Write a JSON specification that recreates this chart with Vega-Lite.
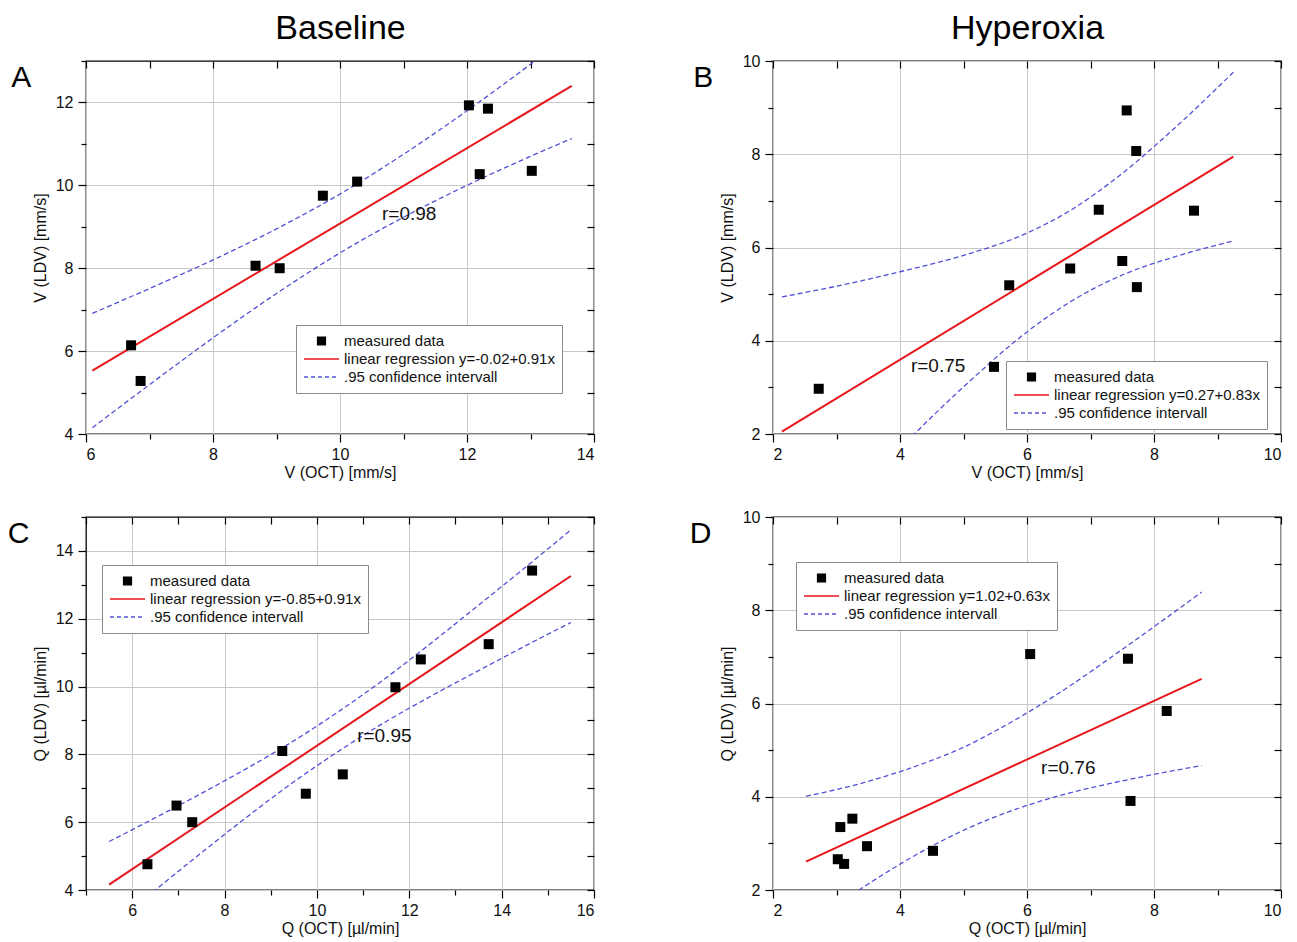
{
  "$schema": "https://vega.github.io/schema/vega-lite/v6.json",
  "background": "white",
  "padding": {"left": 7, "top": 10, "right": 0, "bottom": 0},
  "config": {
    "font": "Liberation Sans",
    "view": {"stroke": "black", "strokeWidth": 1.3},
    "axis": {"labelFont": "Liberation Sans", "labelFontSize": 16, "labelColor": "#111", "titleFont": "Liberation Sans", "titleFontSize": 16, "titleFontWeight": "normal", "titleColor": "#111", "tickColor": "black", "tickWidth": 1.2, "gridColor": "#c8c8c8", "gridWidth": 1, "domain": false},
    "legend": {"labelFont": "Liberation Sans", "labelFontSize": 15, "labelColor": "#111", "labelLimit": 500, "symbolSize": 1225, "clipHeight": 18, "rowPadding": 0, "padding": 7, "labelOffset": 4, "symbolOffset": 0, "strokeColor": "#8a8a8a", "fillColor": "white", "symbolStrokeWidth": 1.5},
    "title": {"font": "Liberation Sans", "fontWeight": "normal", "color": "black"},
    "text": {"font": "Liberation Sans"}
  },
  "datasets": {
    "A_pts": [{"x": 6.71, "y": 6.14, "series": "measured data"}, {"x": 6.86, "y": 5.28, "series": "measured data"}, {"x": 8.67, "y": 8.06, "series": "measured data"}, {"x": 9.05, "y": 8.0, "series": "measured data"}, {"x": 9.73, "y": 9.75, "series": "measured data"}, {"x": 10.27, "y": 10.09, "series": "measured data"}, {"x": 12.03, "y": 11.93, "series": "measured data"}, {"x": 12.33, "y": 11.85, "series": "measured data"}, {"x": 12.2, "y": 10.27, "series": "measured data"}, {"x": 13.02, "y": 10.35, "series": "measured data"}],
    "A_reg": [{"x": 6.1, "y": 5.53, "series": "linear regression y=-0.02+0.91x"}, {"x": 13.65, "y": 12.4, "series": "linear regression y=-0.02+0.91x"}],
    "A_ci": [
      {"x": 6.1, "y": 6.91, "bound": "upper", "series": ".95 confidence intervall"}, {"x": 7, "y": 7.51, "bound": "upper", "series": ".95 confidence intervall"}, {"x": 8, "y": 8.2, "bound": "upper", "series": ".95 confidence intervall"}, {"x": 9, "y": 8.95, "bound": "upper", "series": ".95 confidence intervall"}, {"x": 10, "y": 9.79, "bound": "upper", "series": ".95 confidence intervall"}, {"x": 11, "y": 10.75, "bound": "upper", "series": ".95 confidence intervall"}, {"x": 12, "y": 11.8, "bound": "upper", "series": ".95 confidence intervall"}, {"x": 13, "y": 12.92, "bound": "upper", "series": ".95 confidence intervall"}, {"x": 13.65, "y": 13.67, "bound": "upper", "series": ".95 confidence intervall"},
      {"x": 6.1, "y": 4.15, "bound": "lower", "series": ".95 confidence intervall"}, {"x": 7, "y": 5.19, "bound": "lower", "series": ".95 confidence intervall"}, {"x": 8, "y": 6.32, "bound": "lower", "series": ".95 confidence intervall"}, {"x": 9, "y": 7.39, "bound": "lower", "series": ".95 confidence intervall"}, {"x": 10, "y": 8.37, "bound": "lower", "series": ".95 confidence intervall"}, {"x": 11, "y": 9.23, "bound": "lower", "series": ".95 confidence intervall"}, {"x": 12, "y": 10.0, "bound": "lower", "series": ".95 confidence intervall"}, {"x": 13, "y": 10.7, "bound": "lower", "series": ".95 confidence intervall"}, {"x": 13.65, "y": 11.13, "bound": "lower", "series": ".95 confidence intervall"}
    ],
    "A_txt": [{"x": 11.09, "y": 9.3, "label": "r=0.98"}],
    "B_pts": [{"x": 2.72, "y": 2.97, "series": "measured data"}, {"x": 5.48, "y": 3.44, "series": "measured data"}, {"x": 5.72, "y": 5.19, "series": "measured data"}, {"x": 6.68, "y": 5.55, "series": "measured data"}, {"x": 7.13, "y": 6.81, "series": "measured data"}, {"x": 7.57, "y": 8.94, "series": "measured data"}, {"x": 7.72, "y": 8.07, "series": "measured data"}, {"x": 7.5, "y": 5.71, "series": "measured data"}, {"x": 7.73, "y": 5.15, "series": "measured data"}, {"x": 8.63, "y": 6.79, "series": "measured data"}],
    "B_reg": [{"x": 2.14, "y": 2.05, "series": "linear regression y=0.27+0.83x"}, {"x": 9.25, "y": 7.95, "series": "linear regression y=0.27+0.83x"}],
    "B_ci": [
      {"x": 2.14, "y": 4.94, "bound": "upper", "series": ".95 confidence intervall"}, {"x": 3, "y": 5.17, "bound": "upper", "series": ".95 confidence intervall"}, {"x": 4, "y": 5.48, "bound": "upper", "series": ".95 confidence intervall"}, {"x": 5, "y": 5.83, "bound": "upper", "series": ".95 confidence intervall"}, {"x": 6, "y": 6.31, "bound": "upper", "series": ".95 confidence intervall"}, {"x": 6.7, "y": 6.81, "bound": "upper", "series": ".95 confidence intervall"}, {"x": 7.5, "y": 7.59, "bound": "upper", "series": ".95 confidence intervall"}, {"x": 8.3, "y": 8.53, "bound": "upper", "series": ".95 confidence intervall"}, {"x": 9.25, "y": 9.76, "bound": "upper", "series": ".95 confidence intervall"},
      {"x": 2.14, "y": -0.84, "bound": "lower", "series": ".95 confidence intervall"}, {"x": 3, "y": 0.35, "bound": "lower", "series": ".95 confidence intervall"}, {"x": 4, "y": 1.7, "bound": "lower", "series": ".95 confidence intervall"}, {"x": 5, "y": 3.01, "bound": "lower", "series": ".95 confidence intervall"}, {"x": 6, "y": 4.19, "bound": "lower", "series": ".95 confidence intervall"}, {"x": 6.7, "y": 4.85, "bound": "lower", "series": ".95 confidence intervall"}, {"x": 7.5, "y": 5.41, "bound": "lower", "series": ".95 confidence intervall"}, {"x": 8.3, "y": 5.79, "bound": "lower", "series": ".95 confidence intervall"}, {"x": 9.25, "y": 6.14, "bound": "lower", "series": ".95 confidence intervall"}
    ],
    "B_txt": [{"x": 4.6, "y": 3.46, "label": "r=0.75"}],
    "C_pts": [{"x": 6.33, "y": 4.76, "series": "measured data"}, {"x": 6.96, "y": 6.49, "series": "measured data"}, {"x": 7.3, "y": 6.0, "series": "measured data"}, {"x": 9.25, "y": 8.1, "series": "measured data"}, {"x": 9.76, "y": 6.84, "series": "measured data"}, {"x": 10.56, "y": 7.41, "series": "measured data"}, {"x": 11.7, "y": 9.98, "series": "measured data"}, {"x": 12.25, "y": 10.8, "series": "measured data"}, {"x": 13.72, "y": 11.25, "series": "measured data"}, {"x": 14.66, "y": 13.42, "series": "measured data"}],
    "C_reg": [{"x": 5.5, "y": 4.16, "series": "linear regression y=-0.85+0.91x"}, {"x": 15.5, "y": 13.26, "series": "linear regression y=-0.85+0.91x"}],
    "C_ci": [
      {"x": 5.5, "y": 5.43, "bound": "upper", "series": ".95 confidence intervall"}, {"x": 6.5, "y": 6.13, "bound": "upper", "series": ".95 confidence intervall"}, {"x": 7.5, "y": 6.85, "bound": "upper", "series": ".95 confidence intervall"}, {"x": 8.5, "y": 7.6, "bound": "upper", "series": ".95 confidence intervall"}, {"x": 9.5, "y": 8.4, "bound": "upper", "series": ".95 confidence intervall"}, {"x": 10.5, "y": 9.29, "bound": "upper", "series": ".95 confidence intervall"}, {"x": 11.5, "y": 10.26, "bound": "upper", "series": ".95 confidence intervall"}, {"x": 12.5, "y": 11.31, "bound": "upper", "series": ".95 confidence intervall"}, {"x": 13.5, "y": 12.4, "bound": "upper", "series": ".95 confidence intervall"}, {"x": 14.5, "y": 13.5, "bound": "upper", "series": ".95 confidence intervall"}, {"x": 15.5, "y": 14.62, "bound": "upper", "series": ".95 confidence intervall"},
      {"x": 5.5, "y": 2.89, "bound": "lower", "series": ".95 confidence intervall"}, {"x": 6.5, "y": 4.0, "bound": "lower", "series": ".95 confidence intervall"}, {"x": 7.5, "y": 5.1, "bound": "lower", "series": ".95 confidence intervall"}, {"x": 8.5, "y": 6.17, "bound": "lower", "series": ".95 confidence intervall"}, {"x": 9.5, "y": 7.19, "bound": "lower", "series": ".95 confidence intervall"}, {"x": 10.5, "y": 8.12, "bound": "lower", "series": ".95 confidence intervall"}, {"x": 11.5, "y": 8.97, "bound": "lower", "series": ".95 confidence intervall"}, {"x": 12.5, "y": 9.74, "bound": "lower", "series": ".95 confidence intervall"}, {"x": 13.5, "y": 10.47, "bound": "lower", "series": ".95 confidence intervall"}, {"x": 14.5, "y": 11.19, "bound": "lower", "series": ".95 confidence intervall"}, {"x": 15.5, "y": 11.89, "bound": "lower", "series": ".95 confidence intervall"}
    ],
    "C_txt": [{"x": 11.46, "y": 8.55, "label": "r=0.95"}],
    "D_pts": [{"x": 3.02, "y": 2.66, "series": "measured data"}, {"x": 3.06, "y": 3.35, "series": "measured data"}, {"x": 3.12, "y": 2.56, "series": "measured data"}, {"x": 3.25, "y": 3.53, "series": "measured data"}, {"x": 3.48, "y": 2.94, "series": "measured data"}, {"x": 4.52, "y": 2.84, "series": "measured data"}, {"x": 6.05, "y": 7.06, "series": "measured data"}, {"x": 7.59, "y": 6.96, "series": "measured data"}, {"x": 7.63, "y": 3.91, "series": "measured data"}, {"x": 8.2, "y": 5.84, "series": "measured data"}],
    "D_reg": [{"x": 2.52, "y": 2.61, "series": "linear regression y=1.02+0.63x"}, {"x": 8.75, "y": 6.53, "series": "linear regression y=1.02+0.63x"}],
    "D_ci": [
      {"x": 2.52, "y": 4.01, "bound": "upper", "series": ".95 confidence intervall"}, {"x": 3.5, "y": 4.33, "bound": "upper", "series": ".95 confidence intervall"}, {"x": 4.5, "y": 4.78, "bound": "upper", "series": ".95 confidence intervall"}, {"x": 5, "y": 5.06, "bound": "upper", "series": ".95 confidence intervall"}, {"x": 5.5, "y": 5.41, "bound": "upper", "series": ".95 confidence intervall"}, {"x": 6.5, "y": 6.22, "bound": "upper", "series": ".95 confidence intervall"}, {"x": 7.5, "y": 7.16, "bound": "upper", "series": ".95 confidence intervall"}, {"x": 8.75, "y": 8.39, "bound": "upper", "series": ".95 confidence intervall"},
      {"x": 2.52, "y": 1.21, "bound": "lower", "series": ".95 confidence intervall"}, {"x": 3.5, "y": 2.13, "bound": "lower", "series": ".95 confidence intervall"}, {"x": 4.5, "y": 2.94, "bound": "lower", "series": ".95 confidence intervall"}, {"x": 5, "y": 3.28, "bound": "lower", "series": ".95 confidence intervall"}, {"x": 5.5, "y": 3.57, "bound": "lower", "series": ".95 confidence intervall"}, {"x": 6.5, "y": 4.02, "bound": "lower", "series": ".95 confidence intervall"}, {"x": 7.5, "y": 4.34, "bound": "lower", "series": ".95 confidence intervall"}, {"x": 8.75, "y": 4.67, "bound": "lower", "series": ".95 confidence intervall"}
    ],
    "D_txt": [{"x": 6.65, "y": 4.62, "label": "r=0.76"}]
  },
  "columns": 2,
  "spacing": {"row": 83, "column": 179},
  "bounds": "flush",
  "resolve": {"scale": {"color": "independent"}, "legend": {"color": "independent"}},
  "concat": [
    {
      "width": 508, "height": 373,
      "title": {"text": "A", "orient": "left", "anchor": "end", "frame": "group", "angle": 0, "align": "right", "baseline": "alphabetic", "fontSize": 30, "offset": -19, "dy": 26},
      "resolve": {"axis": {"x": "independent", "y": "independent"}},
      "layer": [
        {"data": {"name": "A_reg"}, "mark": {"type": "line", "strokeWidth": 2, "clip": true},
         "encoding": {
           "x": {"field": "x", "type": "quantitative", "scale": {"domain": [6, 14], "nice": false, "zero": false}, "axis": {"orient": "bottom", "values": [7, 9, 11, 13], "grid": false, "labels": false, "tickSize": 5, "title": null}},
           "y": {"field": "y", "type": "quantitative", "scale": {"domain": [4, 13], "nice": false, "zero": false}, "axis": {"orient": "left", "values": [5, 7, 9, 11, 13], "grid": false, "labels": false, "tickSize": 5, "title": null}},
           "color": {"field": "series", "type": "nominal", "scale": {"domain": ["measured data", "linear regression y=-0.02+0.91x", ".95 confidence intervall"], "range": ["black", "#e8161b", "#5151d8"]},
             "legend": {"title": null, "orient": "none", "legendX": 210, "legendY": 264, "symbolType": {"expr": "datum.value === 'measured data' ? 'M-0.22,-0.22H0.22V0.22H-0.22Z' : 'stroke'"}, "symbolDash": {"expr": "indexof(datum.value, '.95') === 0 ? [4, 3] : [1, 0]"}}}
         }},
        {"data": {"name": "A_ci"}, "mark": {"type": "line", "strokeWidth": 1.3, "strokeDash": [5, 3], "clip": true, "interpolate": "monotone"},
         "encoding": {
           "x": {"field": "x", "type": "quantitative", "scale": {"domain": [6, 14], "nice": false, "zero": false}, "axis": {"orient": "top", "values": [6, 7, 8, 9, 10, 11, 12, 13, 14], "grid": false, "labels": false, "tickSize": -7, "title": "Baseline", "titleFontSize": 34, "titleColor": "black", "titlePadding": 22, "titleBaseline": "alphabetic"}},
           "y": {"field": "y", "type": "quantitative", "scale": {"domain": [4, 13], "nice": false, "zero": false}, "axis": {"orient": "right", "values": [4, 5, 6, 7, 8, 9, 10, 11, 12, 13], "grid": false, "labels": false, "tickSize": -7, "title": null}},
           "detail": {"field": "bound"},
           "color": {"field": "series", "type": "nominal", "scale": {"domain": ["measured data", "linear regression y=-0.02+0.91x", ".95 confidence intervall"], "range": ["black", "#e8161b", "#5151d8"]},
             "legend": {"title": null, "orient": "none", "legendX": 210, "legendY": 264, "symbolType": {"expr": "datum.value === 'measured data' ? 'M-0.22,-0.22H0.22V0.22H-0.22Z' : 'stroke'"}, "symbolDash": {"expr": "indexof(datum.value, '.95') === 0 ? [4, 3] : [1, 0]"}}}
         }},
        {"data": {"name": "A_pts"}, "mark": {"type": "point", "shape": "square", "filled": true, "size": 100, "opacity": 1},
         "encoding": {
           "x": {"field": "x", "type": "quantitative", "scale": {"domain": [6, 14], "nice": false, "zero": false}, "axis": {"orient": "bottom", "values": [6, 8, 10, 12, 14], "grid": true, "tickSize": 8, "labelPadding": 4, "title": "V (OCT) [mm/s]", "titlePadding": 2}},
           "y": {"field": "y", "type": "quantitative", "scale": {"domain": [4, 13], "nice": false, "zero": false}, "axis": {"orient": "left", "values": [4, 6, 8, 10, 12], "grid": true, "tickSize": 8, "labelPadding": 5, "title": "V (LDV) [mm/s]", "titlePadding": 7}},
           "color": {"field": "series", "type": "nominal", "scale": {"domain": ["measured data", "linear regression y=-0.02+0.91x", ".95 confidence intervall"], "range": ["black", "#e8161b", "#5151d8"]},
             "legend": {"title": null, "orient": "none", "legendX": 210, "legendY": 264, "symbolType": {"expr": "datum.value === 'measured data' ? 'M-0.22,-0.22H0.22V0.22H-0.22Z' : 'stroke'"}, "symbolDash": {"expr": "indexof(datum.value, '.95') === 0 ? [4, 3] : [1, 0]"}}}
         }},
        {"data": {"name": "A_txt"}, "mark": {"type": "text", "fontSize": 19, "color": "#111"},
         "encoding": {
           "x": {"field": "x", "type": "quantitative", "scale": {"domain": [6, 14], "nice": false, "zero": false}, "axis": null},
           "y": {"field": "y", "type": "quantitative", "scale": {"domain": [4, 13], "nice": false, "zero": false}, "axis": null},
           "text": {"field": "label"}
         }}
      ]
    },
    {
      "width": 508, "height": 373,
      "title": {"text": "B", "orient": "left", "anchor": "end", "frame": "group", "angle": 0, "align": "right", "baseline": "alphabetic", "fontSize": 30, "offset": -14, "dy": 26},
      "resolve": {"axis": {"x": "independent", "y": "independent"}},
      "layer": [
        {"data": {"name": "B_reg"}, "mark": {"type": "line", "strokeWidth": 2, "clip": true},
         "encoding": {
           "x": {"field": "x", "type": "quantitative", "scale": {"domain": [2, 10], "nice": false, "zero": false}, "axis": {"orient": "bottom", "values": [3, 5, 7, 9], "grid": false, "labels": false, "tickSize": 5, "title": null}},
           "y": {"field": "y", "type": "quantitative", "scale": {"domain": [2, 10], "nice": false, "zero": false}, "axis": {"orient": "left", "values": [3, 5, 7, 9], "grid": false, "labels": false, "tickSize": 5, "title": null}},
           "color": {"field": "series", "type": "nominal", "scale": {"domain": ["measured data", "linear regression y=0.27+0.83x", ".95 confidence intervall"], "range": ["black", "#e8161b", "#5151d8"]},
             "legend": {"title": null, "orient": "none", "legendX": 233, "legendY": 300, "symbolType": {"expr": "datum.value === 'measured data' ? 'M-0.22,-0.22H0.22V0.22H-0.22Z' : 'stroke'"}, "symbolDash": {"expr": "indexof(datum.value, '.95') === 0 ? [4, 3] : [1, 0]"}}}
         }},
        {"data": {"name": "B_ci"}, "mark": {"type": "line", "strokeWidth": 1.3, "strokeDash": [5, 3], "clip": true, "interpolate": "monotone"},
         "encoding": {
           "x": {"field": "x", "type": "quantitative", "scale": {"domain": [2, 10], "nice": false, "zero": false}, "axis": {"orient": "top", "values": [2, 3, 4, 5, 6, 7, 8, 9, 10], "grid": false, "labels": false, "tickSize": -7, "title": "Hyperoxia", "titleFontSize": 34, "titleColor": "black", "titlePadding": 22, "titleBaseline": "alphabetic"}},
           "y": {"field": "y", "type": "quantitative", "scale": {"domain": [2, 10], "nice": false, "zero": false}, "axis": {"orient": "right", "values": [2, 3, 4, 5, 6, 7, 8, 9, 10], "grid": false, "labels": false, "tickSize": -7, "title": null}},
           "detail": {"field": "bound"},
           "color": {"field": "series", "type": "nominal", "scale": {"domain": ["measured data", "linear regression y=0.27+0.83x", ".95 confidence intervall"], "range": ["black", "#e8161b", "#5151d8"]},
             "legend": {"title": null, "orient": "none", "legendX": 233, "legendY": 300, "symbolType": {"expr": "datum.value === 'measured data' ? 'M-0.22,-0.22H0.22V0.22H-0.22Z' : 'stroke'"}, "symbolDash": {"expr": "indexof(datum.value, '.95') === 0 ? [4, 3] : [1, 0]"}}}
         }},
        {"data": {"name": "B_pts"}, "mark": {"type": "point", "shape": "square", "filled": true, "size": 100, "opacity": 1},
         "encoding": {
           "x": {"field": "x", "type": "quantitative", "scale": {"domain": [2, 10], "nice": false, "zero": false}, "axis": {"orient": "bottom", "values": [2, 4, 6, 8, 10], "grid": true, "tickSize": 8, "labelPadding": 4, "title": "V (OCT) [mm/s]", "titlePadding": 2}},
           "y": {"field": "y", "type": "quantitative", "scale": {"domain": [2, 10], "nice": false, "zero": false}, "axis": {"orient": "left", "values": [2, 4, 6, 8, 10], "grid": true, "tickSize": 8, "labelPadding": 5, "title": "V (LDV) [mm/s]", "titlePadding": 7}},
           "color": {"field": "series", "type": "nominal", "scale": {"domain": ["measured data", "linear regression y=0.27+0.83x", ".95 confidence intervall"], "range": ["black", "#e8161b", "#5151d8"]},
             "legend": {"title": null, "orient": "none", "legendX": 233, "legendY": 300, "symbolType": {"expr": "datum.value === 'measured data' ? 'M-0.22,-0.22H0.22V0.22H-0.22Z' : 'stroke'"}, "symbolDash": {"expr": "indexof(datum.value, '.95') === 0 ? [4, 3] : [1, 0]"}}}
         }},
        {"data": {"name": "B_txt"}, "mark": {"type": "text", "fontSize": 19, "color": "#111"},
         "encoding": {
           "x": {"field": "x", "type": "quantitative", "scale": {"domain": [2, 10], "nice": false, "zero": false}, "axis": null},
           "y": {"field": "y", "type": "quantitative", "scale": {"domain": [2, 10], "nice": false, "zero": false}, "axis": null},
           "text": {"field": "label"}
         }}
      ]
    },
    {
      "width": 508, "height": 373,
      "title": {"text": "C", "orient": "left", "anchor": "end", "frame": "group", "angle": 0, "align": "right", "baseline": "alphabetic", "fontSize": 30, "offset": -19, "dy": 26},
      "resolve": {"axis": {"x": "independent", "y": "independent"}},
      "layer": [
        {"data": {"name": "C_reg"}, "mark": {"type": "line", "strokeWidth": 2, "clip": true},
         "encoding": {
           "x": {"field": "x", "type": "quantitative", "scale": {"domain": [5, 16], "nice": false, "zero": false}, "axis": {"orient": "bottom", "values": [5, 7, 9, 11, 13, 15], "grid": false, "labels": false, "tickSize": 5, "title": null}},
           "y": {"field": "y", "type": "quantitative", "scale": {"domain": [4, 15], "nice": false, "zero": false}, "axis": {"orient": "left", "values": [5, 7, 9, 11, 13, 15], "grid": false, "labels": false, "tickSize": 5, "title": null}},
           "color": {"field": "series", "type": "nominal", "scale": {"domain": ["measured data", "linear regression y=-0.85+0.91x", ".95 confidence intervall"], "range": ["black", "#e8161b", "#5151d8"]},
             "legend": {"title": null, "orient": "none", "legendX": 16, "legendY": 48, "symbolType": {"expr": "datum.value === 'measured data' ? 'M-0.22,-0.22H0.22V0.22H-0.22Z' : 'stroke'"}, "symbolDash": {"expr": "indexof(datum.value, '.95') === 0 ? [4, 3] : [1, 0]"}}}
         }},
        {"data": {"name": "C_ci"}, "mark": {"type": "line", "strokeWidth": 1.3, "strokeDash": [5, 3], "clip": true, "interpolate": "monotone"},
         "encoding": {
           "x": {"field": "x", "type": "quantitative", "scale": {"domain": [5, 16], "nice": false, "zero": false}, "axis": {"orient": "top", "values": [5, 6, 7, 8, 9, 10, 11, 12, 13, 14, 15, 16], "grid": false, "labels": false, "tickSize": -7, "title": null}},
           "y": {"field": "y", "type": "quantitative", "scale": {"domain": [4, 15], "nice": false, "zero": false}, "axis": {"orient": "right", "values": [4, 5, 6, 7, 8, 9, 10, 11, 12, 13, 14, 15], "grid": false, "labels": false, "tickSize": -7, "title": null}},
           "detail": {"field": "bound"},
           "color": {"field": "series", "type": "nominal", "scale": {"domain": ["measured data", "linear regression y=-0.85+0.91x", ".95 confidence intervall"], "range": ["black", "#e8161b", "#5151d8"]},
             "legend": {"title": null, "orient": "none", "legendX": 16, "legendY": 48, "symbolType": {"expr": "datum.value === 'measured data' ? 'M-0.22,-0.22H0.22V0.22H-0.22Z' : 'stroke'"}, "symbolDash": {"expr": "indexof(datum.value, '.95') === 0 ? [4, 3] : [1, 0]"}}}
         }},
        {"data": {"name": "C_pts"}, "mark": {"type": "point", "shape": "square", "filled": true, "size": 100, "opacity": 1},
         "encoding": {
           "x": {"field": "x", "type": "quantitative", "scale": {"domain": [5, 16], "nice": false, "zero": false}, "axis": {"orient": "bottom", "values": [6, 8, 10, 12, 14, 16], "grid": true, "tickSize": 8, "labelPadding": 4, "title": "Q (OCT) [µl/min]", "titlePadding": 2}},
           "y": {"field": "y", "type": "quantitative", "scale": {"domain": [4, 15], "nice": false, "zero": false}, "axis": {"orient": "left", "values": [4, 6, 8, 10, 12, 14], "grid": true, "tickSize": 8, "labelPadding": 5, "title": "Q (LDV) [µl/min]", "titlePadding": 7}},
           "color": {"field": "series", "type": "nominal", "scale": {"domain": ["measured data", "linear regression y=-0.85+0.91x", ".95 confidence intervall"], "range": ["black", "#e8161b", "#5151d8"]},
             "legend": {"title": null, "orient": "none", "legendX": 16, "legendY": 48, "symbolType": {"expr": "datum.value === 'measured data' ? 'M-0.22,-0.22H0.22V0.22H-0.22Z' : 'stroke'"}, "symbolDash": {"expr": "indexof(datum.value, '.95') === 0 ? [4, 3] : [1, 0]"}}}
         }},
        {"data": {"name": "C_txt"}, "mark": {"type": "text", "fontSize": 19, "color": "#111"},
         "encoding": {
           "x": {"field": "x", "type": "quantitative", "scale": {"domain": [5, 16], "nice": false, "zero": false}, "axis": null},
           "y": {"field": "y", "type": "quantitative", "scale": {"domain": [4, 15], "nice": false, "zero": false}, "axis": null},
           "text": {"field": "label"}
         }}
      ]
    },
    {
      "width": 508, "height": 373,
      "title": {"text": "D", "orient": "left", "anchor": "end", "frame": "group", "angle": 0, "align": "right", "baseline": "alphabetic", "fontSize": 30, "offset": -14, "dy": 26},
      "resolve": {"axis": {"x": "independent", "y": "independent"}},
      "layer": [
        {"data": {"name": "D_reg"}, "mark": {"type": "line", "strokeWidth": 2, "clip": true},
         "encoding": {
           "x": {"field": "x", "type": "quantitative", "scale": {"domain": [2, 10], "nice": false, "zero": false}, "axis": {"orient": "bottom", "values": [3, 5, 7, 9], "grid": false, "labels": false, "tickSize": 5, "title": null}},
           "y": {"field": "y", "type": "quantitative", "scale": {"domain": [2, 10], "nice": false, "zero": false}, "axis": {"orient": "left", "values": [3, 5, 7, 9], "grid": false, "labels": false, "tickSize": 5, "title": null}},
           "color": {"field": "series", "type": "nominal", "scale": {"domain": ["measured data", "linear regression y=1.02+0.63x", ".95 confidence intervall"], "range": ["black", "#e8161b", "#5151d8"]},
             "legend": {"title": null, "orient": "none", "legendX": 23, "legendY": 45, "symbolType": {"expr": "datum.value === 'measured data' ? 'M-0.22,-0.22H0.22V0.22H-0.22Z' : 'stroke'"}, "symbolDash": {"expr": "indexof(datum.value, '.95') === 0 ? [4, 3] : [1, 0]"}}}
         }},
        {"data": {"name": "D_ci"}, "mark": {"type": "line", "strokeWidth": 1.3, "strokeDash": [5, 3], "clip": true, "interpolate": "monotone"},
         "encoding": {
           "x": {"field": "x", "type": "quantitative", "scale": {"domain": [2, 10], "nice": false, "zero": false}, "axis": {"orient": "top", "values": [2, 3, 4, 5, 6, 7, 8, 9, 10], "grid": false, "labels": false, "tickSize": -7, "title": null}},
           "y": {"field": "y", "type": "quantitative", "scale": {"domain": [2, 10], "nice": false, "zero": false}, "axis": {"orient": "right", "values": [2, 3, 4, 5, 6, 7, 8, 9, 10], "grid": false, "labels": false, "tickSize": -7, "title": null}},
           "detail": {"field": "bound"},
           "color": {"field": "series", "type": "nominal", "scale": {"domain": ["measured data", "linear regression y=1.02+0.63x", ".95 confidence intervall"], "range": ["black", "#e8161b", "#5151d8"]},
             "legend": {"title": null, "orient": "none", "legendX": 23, "legendY": 45, "symbolType": {"expr": "datum.value === 'measured data' ? 'M-0.22,-0.22H0.22V0.22H-0.22Z' : 'stroke'"}, "symbolDash": {"expr": "indexof(datum.value, '.95') === 0 ? [4, 3] : [1, 0]"}}}
         }},
        {"data": {"name": "D_pts"}, "mark": {"type": "point", "shape": "square", "filled": true, "size": 100, "opacity": 1},
         "encoding": {
           "x": {"field": "x", "type": "quantitative", "scale": {"domain": [2, 10], "nice": false, "zero": false}, "axis": {"orient": "bottom", "values": [2, 4, 6, 8, 10], "grid": true, "tickSize": 8, "labelPadding": 4, "title": "Q (OCT) [µl/min]", "titlePadding": 2}},
           "y": {"field": "y", "type": "quantitative", "scale": {"domain": [2, 10], "nice": false, "zero": false}, "axis": {"orient": "left", "values": [2, 4, 6, 8, 10], "grid": true, "tickSize": 8, "labelPadding": 5, "title": "Q (LDV) [µl/min]", "titlePadding": 7}},
           "color": {"field": "series", "type": "nominal", "scale": {"domain": ["measured data", "linear regression y=1.02+0.63x", ".95 confidence intervall"], "range": ["black", "#e8161b", "#5151d8"]},
             "legend": {"title": null, "orient": "none", "legendX": 23, "legendY": 45, "symbolType": {"expr": "datum.value === 'measured data' ? 'M-0.22,-0.22H0.22V0.22H-0.22Z' : 'stroke'"}, "symbolDash": {"expr": "indexof(datum.value, '.95') === 0 ? [4, 3] : [1, 0]"}}}
         }},
        {"data": {"name": "D_txt"}, "mark": {"type": "text", "fontSize": 19, "color": "#111"},
         "encoding": {
           "x": {"field": "x", "type": "quantitative", "scale": {"domain": [2, 10], "nice": false, "zero": false}, "axis": null},
           "y": {"field": "y", "type": "quantitative", "scale": {"domain": [2, 10], "nice": false, "zero": false}, "axis": null},
           "text": {"field": "label"}
         }}
      ]
    }
  ]
}
